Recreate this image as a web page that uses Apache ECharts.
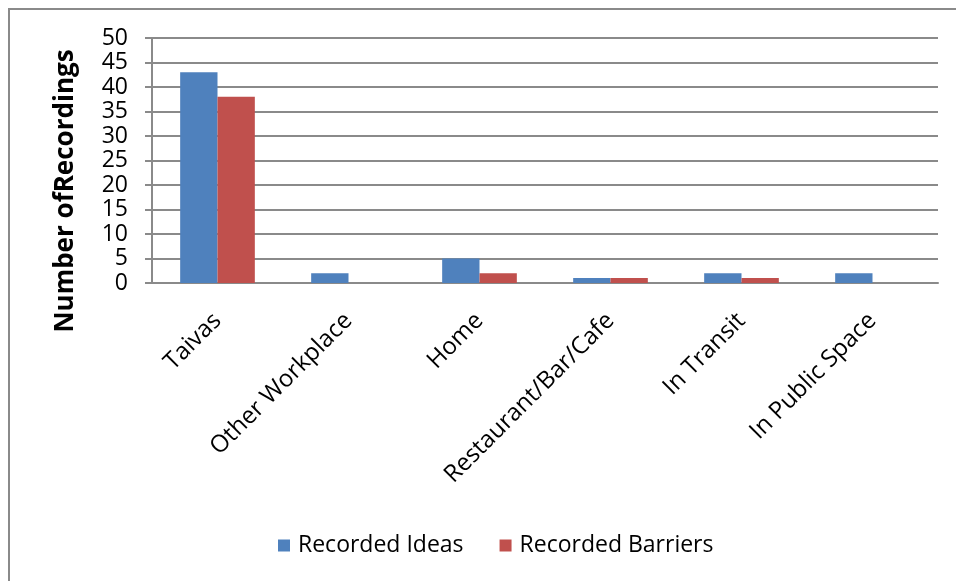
<!DOCTYPE html>
<html>
<head>
<meta charset="utf-8">
<script src="https://cdn.jsdelivr.net/npm/echarts@6/dist/echarts.min.js"></script>
<style>
  html, body { margin: 0; padding: 0; background: #fff; }
  #frame { position: absolute; left: 8px; top: 8px; width: 980px; height: 600px; border: 2px solid #8a8a8a; box-sizing: border-box; }
  #chart { position: absolute; left: 0; top: 0; width: 956px; height: 581px; }
</style>
</head>
<body>
<div id="frame"></div>
<div id="chart"></div>
<script>
// Locations where recordings were made
const categories = ['Taivas', 'Other Workplace', 'Home', 'Restaurant/Bar/Cafe', 'In Transit', 'In Public Space'];
const recordedIdeas = [43, 2, 5, 1, 2, 2];
const recordedBarriers = [38, 0, 2, 1, 1, 0];
const yTicks = { min: 0, max: 50, interval: 5 };
const yTitle = 'Number ofRecordings';

const chart = echarts.init(document.getElementById('chart'), null, { renderer: 'canvas' });
const font = '"Open Sans", sans-serif';

chart.setOption({
  animation: false,
  textStyle: { fontFamily: font },
  grid: { left: 152, right: 18, top: 38, bottom: 298, containLabel: false },
  graphic: [{
    type: 'text',
    x: 66,
    y: 191,
    rotation: Math.PI / 2,
    style: {
      text: yTitle,
      fontSize: 26,
      fontWeight: 'bold',
      fontFamily: font,
      fill: '#000',
      align: 'center',
      verticalAlign: 'middle'
    }
  }],
  legend: {
    top: 529,
    left: 273,
    itemWidth: 12,
    itemHeight: 12,
    itemGap: 36,
    icon: 'rect',
    textStyle: { fontSize: 23, color: '#000', fontFamily: font, padding: [0, 0, 0, 3] },
    data: ['Recorded Ideas', 'Recorded Barriers']
  },
  xAxis: {
    type: 'category',
    data: categories,
    axisLine: { lineStyle: { color: '#8a8a8a', width: 2 } },
    axisTick: { show: false },
    axisLabel: {
      rotate: 45,
      interval: 0,
      fontSize: 24,
      color: '#000',
      margin: 34,
      fontFamily: font
    }
  },
  yAxis: {
    type: 'value',
    min: yTicks.min,
    max: yTicks.max,
    interval: yTicks.interval,
    axisLine: { show: true, lineStyle: { color: '#8a8a8a', width: 2 } },
    axisTick: { show: true, length: 7, lineStyle: { color: '#8a8a8a', width: 2 } },
    splitLine: { lineStyle: { color: '#8a8a8a', width: 2 } },
    axisLabel: { fontSize: 23, color: '#000', margin: 24, fontFamily: font }
  },
  series: [
    {
      name: 'Recorded Ideas',
      type: 'bar',
      data: recordedIdeas,
      barWidth: '28.5%',
      barGap: '0%',
      itemStyle: { color: '#4F81BD' }
    },
    {
      name: 'Recorded Barriers',
      type: 'bar',
      data: recordedBarriers,
      barWidth: '28.5%',
      itemStyle: { color: '#C0504D' }
    }
  ]
});
</script>
</body>
</html>
